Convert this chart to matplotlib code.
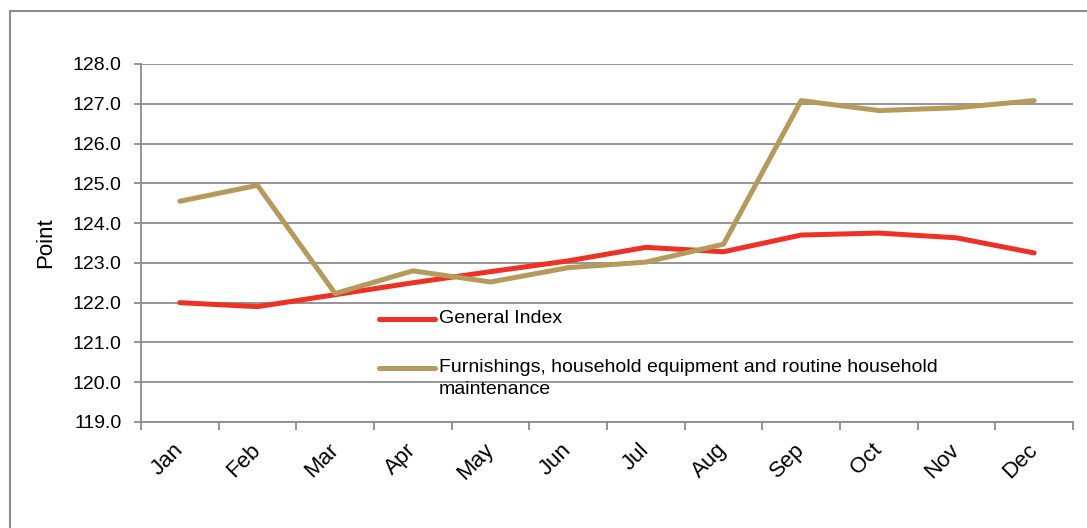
import matplotlib
matplotlib.use("Agg")
import matplotlib.pyplot as plt
from matplotlib.lines import Line2D

plt.rcParams['font.family'] = ['Liberation Sans', 'DejaVu Sans']

months = ["Jan", "Feb", "Mar", "Apr", "May", "Jun",
          "Jul", "Aug", "Sep", "Oct", "Nov", "Dec"]
general_index = [122.0, 121.9, 122.2, 122.5, 122.78, 123.05,
                 123.39, 123.28, 123.7, 123.75, 123.63, 123.25]
furnishings = [124.55, 124.95, 122.23, 122.8, 122.52, 122.88,
               123.02, 123.47, 127.08, 126.83, 126.9, 127.08]
series_names = ["General Index",
                "Furnishings, household equipment and routine household\nmaintenance"]
y_ticks = [119, 120, 121, 122, 123, 124, 125, 126, 127, 128]

red = "#EE3124"
gold = "#B69A5C"
grey = "#8C8C8C"

W, H = 1087, 528
fig = plt.figure(figsize=(W / 100, H / 100), dpi=100)
ax = fig.add_axes([141 / W, 1 - 422 / H, (1073 - 141) / W, (422 - 64) / H])

x = list(range(len(months)))
ax.plot(x, general_index, color=red, lw=3.6, solid_capstyle='round', zorder=3)
ax.plot(x, furnishings, color=gold, lw=3.6, solid_capstyle='round', zorder=3)

ax.set_xlim(-0.5, len(months) - 0.5)
ax.set_ylim(119, 128)
ax.set_yticks(y_ticks)
ax.set_yticklabels(["%.1f" % v for v in y_ticks], fontsize=14)
ax.yaxis.grid(True, color=grey, lw=1.3)
ax.set_axisbelow(True)

ax.set_xticks(x)
ax.set_xticklabels(months, fontsize=16, rotation=45, ha='right',
                   va='center', rotation_mode='anchor')
ax.tick_params(axis='x', which='major', length=0, pad=18)
ax.set_xticks([i - 0.5 for i in range(len(months) + 1)], minor=True)
ax.tick_params(axis='x', which='minor', length=6, color=grey, width=1.3)
ax.tick_params(axis='y', length=5, color=grey, width=1.3, pad=9)

for s in ['top', 'right']:
    ax.spines[s].set_visible(False)
for s in ['left', 'bottom']:
    ax.spines[s].set_color(grey)
    ax.spines[s].set_linewidth(1.3)

ax.set_ylabel("Point", fontsize=16)
ax.yaxis.set_label_coords((56 - 141) / (1073 - 141), 0.5)

# legend drawn inside the plot, handles aligned to first text line
def px(xp, yp):
    return xp / W, 1 - yp / H

for (yp, col, name) in [(319, red, series_names[0]), (368, gold, series_names[1])]:
    x0, y0 = px(379, yp)
    x1, _ = px(435, yp)
    fig.add_artist(Line2D([x0, x1], [y0, y0], color=col, lw=3.6,
                          solid_capstyle='round'))
    tx, ty = px(439, yp - 9)
    fig.text(tx, ty, name, fontsize=14, va='top', ha='left', linespacing=1.35)

# outer frame (top and left only visible)
fig.add_artist(Line2D([10 / W, 1], [1 - 11 / H, 1 - 11 / H], color=grey, lw=1.5))
fig.add_artist(Line2D([10 / W, 10 / W], [0, 1 - 11 / H], color=grey, lw=1.5))

fig.savefig("out.png", dpi=100)
